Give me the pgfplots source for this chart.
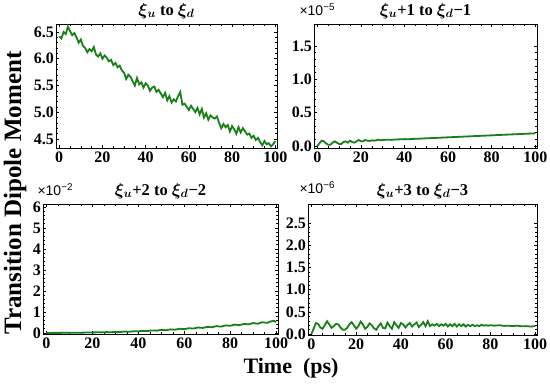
\documentclass[border=0pt]{standalone}
\usepackage{fontspec}
\setmainfont{Liberation Serif}
\newfontfamily\sansf{Liberation Sans}
\usepackage{pgfplots}
\pgfplotsset{compat=1.18}
\definecolor{mgreen}{RGB}{24,128,24}
\pgfplotsset{
  panel/.style={
    scale only axis, anchor=south west,
    xmin=-1.5, xmax=100.8,
    xtick={0,20,...,100},
    minor x tick num=3,
    tick align=inside, tick pos=both,
    major tick length=3pt, minor tick length=1.6pt,
    axis line style={line width=0.9pt},
    every tick/.style={black, line width=0.5pt},
    tick label style={font=\fontsize{16}{16}\selectfont\bfseries},
    yticklabel style={xshift=1.5pt},
    /pgf/number format/assume math mode=true,
    scaled y ticks=false,
    title style={font=\fontsize{16.5}{16.5}\selectfont\bfseries\boldmath, yshift=-4pt},
  },
  gline/.style={mgreen, line width=1.8pt, no markers},
  onedec/.style={yticklabel style={/pgf/number format/.cd, fixed, fixed zerofill, precision=1}},
}
\begin{document}
\begin{tikzpicture}
\useasboundingbox (0,0) rectangle (550pt,386pt);
% Panel 1
\begin{axis}[panel, onedec, at={(56pt,238pt)}, width=221pt, height=124pt,
  ymin=4.33, ymax=6.65, ytick={4.5,5.0,5.5,6.0,6.5}, minor y tick num=4,
  title={$\xi_u$ to $\xi_d$}]
\addplot[gline] table {
0 6.42
1 6.38
2 6.50
3 6.46
4 6.60
5 6.52
6 6.44
7 6.48
8 6.40
9 6.30
10 6.36
11 6.24
12 6.20
13 6.12
14 6.18
15 6.14
16 6.22
17 6.08
18 6.04
19 6.10
20 6.00
21 6.06
22 6.02
23 5.95
24 5.98
25 5.88
26 5.92
27 5.84
28 5.87
29 5.78
30 5.74
31 5.62
32 5.70
33 5.66
34 5.58
35 5.50
36 5.64
37 5.52
38 5.56
39 5.46
40 5.54
41 5.50
42 5.40
43 5.46
44 5.48
45 5.38
46 5.42
47 5.35
48 5.28
49 5.36
50 5.22
51 5.30
52 5.18
53 5.24
54 5.20
55 5.30
56 5.38
57 5.14
58 5.16
59 5.10
60 5.04
61 5.12
62 5.06
63 5.00
64 5.08
65 4.96
66 5.06
67 4.90
68 4.98
69 4.86
70 4.94
71 4.90
72 4.88
73 4.92
74 4.80
75 4.70
76 4.78
77 4.72
78 4.76
79 4.64
80 4.74
81 4.68
82 4.60
83 4.72
84 4.62
85 4.70
86 4.64
87 4.58
88 4.60
89 4.52
90 4.56
91 4.48
92 4.52
93 4.44
94 4.38
95 4.46
96 4.40
97 4.42
98 4.36
99 4.40
100 4.46
};
\end{axis}
% Panel 2
\begin{axis}[panel, onedec, at={(314pt,238pt)}, width=223pt, height=124pt,
  ymin=-0.03, ymax=1.83, ytick={0,0.5,1.0,1.5}, minor y tick num=4,
  title={$\xi_u$+1 to $\xi_d$−1}]
\addplot[gline] table {
0 0.00
1 0.04
2 0.08
3 0.07
4 0.04
5 0.02
6 0.02
7 0.05
8 0.07
9 0.05
10 0.03
11 0.03
12 0.06
13 0.07
14 0.05
15 0.08
16 0.06
17 0.05
18 0.07
19 0.09
20 0.07
21 0.07
22 0.09
23 0.08
24 0.075
25 0.085
26 0.08
27 0.085
28 0.095
29 0.085
30 0.09
32 0.095
34 0.092
36 0.098
38 0.100
40 0.103
42 0.102
44 0.107
46 0.108
48 0.112
50 0.115
52 0.118
54 0.121
56 0.124
58 0.127
60 0.130
62 0.133
64 0.136
66 0.139
68 0.142
70 0.145
72 0.148
74 0.151
76 0.154
78 0.157
80 0.160
82 0.163
84 0.166
86 0.169
88 0.172
90 0.175
92 0.178
94 0.181
96 0.184
98 0.187
100 0.190
};
\end{axis}
% Panel 3
\begin{axis}[panel, at={(43pt,52pt)}, width=235pt, height=130pt,
  ymin=-0.05, ymax=6.14, ytick={0,1,...,6}, minor y tick num=4,
  title={$\xi_u$+2 to $\xi_d$−2}]
\addplot[gline] table {
0 0.000
2 0.002
4 0.003
6 0.004
8 0.006
10 0.008
12 0.010
14 0.012
16 0.015
18 0.020
20 0.025
22 0.030
24 0.028
26 0.040
28 0.035
30 0.050
32 0.045
34 0.065
36 0.060
38 0.080
40 0.075
42 0.100
44 0.090
46 0.120
48 0.110
50 0.145
52 0.130
54 0.170
56 0.155
58 0.200
60 0.180
62 0.225
64 0.210
66 0.260
68 0.240
70 0.290
72 0.270
74 0.325
76 0.300
78 0.360
80 0.340
82 0.400
84 0.370
86 0.430
88 0.410
90 0.470
92 0.440
94 0.510
96 0.480
98 0.560
99 0.580
100 0.520
};
\end{axis}
% Panel 4
\begin{axis}[panel, onedec, at={(308pt,51pt)}, width=229pt, height=131pt,
  ymin=-0.02, ymax=2.93, ytick={0,0.5,...,2.5}, minor y tick num=4,
  title={$\xi_u$+3 to $\xi_d$−3}]
\addplot[gline] table {
0 0.00
1 0.12
2 0.25
3 0.23
4 0.15
5 0.12
6 0.20
7 0.29
8 0.22
9 0.14
10 0.18
11 0.23
12 0.22
13 0.15
14 0.10
15 0.10
16 0.14
17 0.22
18 0.27
19 0.20
20 0.12
21 0.18
22 0.28
23 0.22
24 0.12
25 0.16
26 0.24
27 0.20
28 0.13
29 0.10
30 0.18
31 0.24
32 0.14
33 0.13
34 0.26
35 0.18
36 0.12
37 0.27
38 0.20
39 0.14
40 0.25
41 0.22
42 0.15
43 0.21
44 0.25
45 0.17
46 0.22
47 0.26
48 0.16
49 0.21
50 0.27
51 0.18
52 0.29
53 0.18
54 0.22
55 0.19
56 0.23
57 0.18
58 0.22
59 0.19
60 0.23
61 0.17
62 0.22
63 0.18
64 0.23
65 0.17
66 0.22
67 0.18
68 0.22
69 0.17
70 0.21
71 0.18
72 0.21
73 0.18
74 0.20
75 0.18
76 0.21
77 0.19
78 0.20
79 0.19
80 0.20
82 0.19
84 0.20
86 0.185
88 0.19
90 0.18
92 0.19
94 0.175
96 0.18
98 0.17
100 0.18
};
\end{axis}
% exponent labels
\node[anchor=base west, font=\sansf\fontsize{14}{14}\selectfont] at (296pt,370pt) {×10\textsuperscript{−5}};
\node[anchor=base west, font=\sansf\fontsize{14}{14}\selectfont] at (34pt,190pt) {×10\textsuperscript{−2}};
\node[anchor=base west, font=\sansf\fontsize{14}{14}\selectfont] at (296pt,192pt) {×10\textsuperscript{−6}};
% axis labels
\node[rotate=90, font=\fontsize{25}{25}\selectfont\bfseries] at (15pt,193pt) {Transition Dipole Moment};
\node[font=\fontsize{22}{22}\selectfont\bfseries] at (291pt,18pt) {Time\hspace{0.5em}(ps)};
\end{tikzpicture}
\end{document}
